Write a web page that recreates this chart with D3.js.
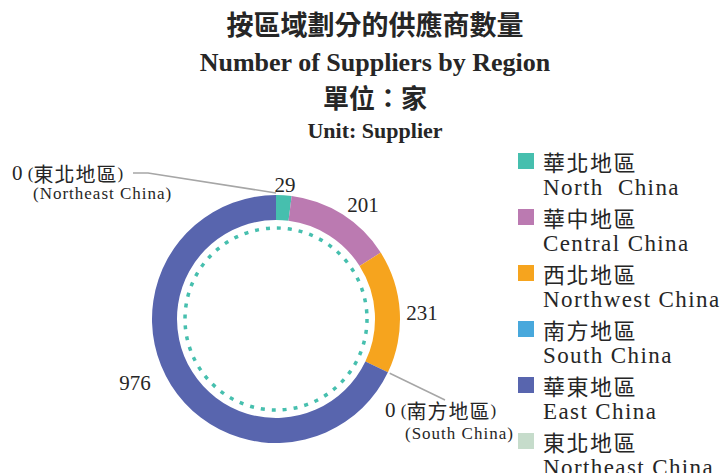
<!DOCTYPE html>
<html>
<head>
<meta charset="utf-8">
<script src="https://cdn.jsdelivr.net/npm/d3@7"></script>
<style>
  body { margin: 0; background: #fff; }
  text { font-family: "Liberation Serif", "Noto Sans CJK TC", serif; fill: #262626; }
  .cjk { font-family: "Noto Sans CJK TC", "Liberation Serif", serif; }
</style>
</head>
<body>
<svg id="chart" width="723" height="473"></svg>
<script>
// data
const regionsZh = ['華北地區', '華中地區', '西北地區', '南方地區', '華東地區', '東北地區'];
const regionsEn = ['North  China', 'Central China', 'Northwest China', 'South China', 'East China', 'Northeast China'];
const suppliers = [29, 201, 231, 0, 976, 0];
const colors = ['#46BFAE', '#BB7AB1', '#F6A41E', '#48A8DC', '#5865AE', '#C6DCCB'];
const titleLines = ['按區域劃分的供應商數量', 'Number of Suppliers by Region', '單位：家', 'Unit: Supplier'];

const svg = d3.select('#chart');
const cx = 276, cy = 319, outerR = 124, innerR = 99;

// titles
const titleY = [23, 62, 96, 130];
const titleSize = [27, 26, 26, 22];
titleLines.forEach((t, i) => {
  svg.append('text')
    .attr('class', i % 2 === 0 ? 'cjk' : null)
    .attr('x', 375)
    .attr('y', titleY[i])
    .attr('text-anchor', 'middle')
    .attr('dominant-baseline', 'central')
    .attr('font-size', titleSize[i])
    .attr('font-weight', 'bold')
    .attr('fill', '#222')
    .text(t);
});

const data = regionsZh.map((zh, i) => ({ zh, en: regionsEn[i], value: suppliers[i], color: colors[i] }));

const pie = d3.pie().sort(null).value(d => d.value);
const arcs = pie(data);
const arc = d3.arc().innerRadius(innerR).outerRadius(outerR);

const g = svg.append('g').attr('transform', `translate(${cx},${cy})`);

g.selectAll('path.slice')
  .data(arcs)
  .enter()
  .append('path')
  .attr('class', 'slice')
  .attr('d', arc)
  .attr('fill', d => d.data.color);

// dotted inner circle
g.append('circle')
  .attr('r', 91)
  .attr('fill', 'none')
  .attr('stroke', '#46BFAE')
  .attr('stroke-width', 3.5)
  .attr('stroke-dasharray', '4 7');

// value labels for non-zero slices
const labelPos = {
  '華北地區': [9, -134],
  '華中地區': [87, -114],
  '西北地區': [146, -6],
  '華東地區': [-141, 64]
};
arcs.filter(d => d.data.value > 0).forEach(d => {
  const p = labelPos[d.data.zh];
  g.append('text')
    .attr('x', p[0])
    .attr('y', p[1])
    .attr('text-anchor', 'middle')
    .attr('dominant-baseline', 'central')
    .attr('font-size', 21)
    .text(d.data.value);
});

// zero-value callouts
const pointAt = (angle, r) => [Math.sin(angle) * r, -Math.cos(angle) * r];
const zeroCallouts = {
  '東北地區': { elbow: [-128, -146], end: [-143, -146], tx: -264, ty: -146, en: [-243, -126] },
  '南方地區': { elbow: [169, 81], end: null, tx: 109, ty: 91, en: [129, 114] }
};
arcs.filter(d => d.data.value === 0).forEach(d => {
  const c = zeroCallouts[d.data.zh];
  const start = pointAt(d.startAngle, outerR + 2);
  const pts = [start, c.elbow];
  if (c.end) pts.push(c.end);
  g.append('path')
    .attr('d', d3.line()(pts))
    .attr('fill', 'none')
    .attr('stroke', '#A6A6A6')
    .attr('stroke-width', 1.5);
  const t = g.append('text')
    .attr('x', c.tx)
    .attr('y', c.ty)
    .attr('dominant-baseline', 'central')
    .attr('font-size', 21);
  t.append('tspan').text(d.data.value + ' ');
  t.append('tspan').attr('font-size', 17).text('(');
  t.append('tspan').attr('class', 'cjk').attr('font-size', 20).attr('letter-spacing', 1).text(d.data.zh);
  t.append('tspan').attr('font-size', 17).text(')');
  const en = d.data.en.replace('  ', ' ');
  g.append('text')
    .attr('x', c.en[0])
    .attr('y', c.en[1])
    .attr('dominant-baseline', 'central')
    .attr('font-size', 17)
    .attr('letter-spacing', 1)
    .text('(' + en + ')');
});

// legend
const legend = svg.append('g').attr('transform', 'translate(518,153)');
const item = legend.selectAll('g.item')
  .data(data)
  .enter()
  .append('g')
  .attr('class', 'item')
  .attr('transform', (d, i) => `translate(0,${i * 56})`);
item.append('rect')
  .attr('width', 16)
  .attr('height', 16)
  .attr('fill', d => d.color);
item.append('text')
  .attr('class', 'cjk')
  .attr('x', 25)
  .attr('y', 8)
  .attr('dominant-baseline', 'central')
  .attr('font-size', 22)
  .attr('letter-spacing', 1.5)
  .text(d => d.zh);
item.append('text')
  .attr('x', 25)
  .attr('y', 34)
  .attr('dominant-baseline', 'central')
  .attr('font-size', 23)
  .attr('letter-spacing', 1.4)
  .style('white-space', 'pre')
  .text(d => d.en);
</script>
</body>
</html>
